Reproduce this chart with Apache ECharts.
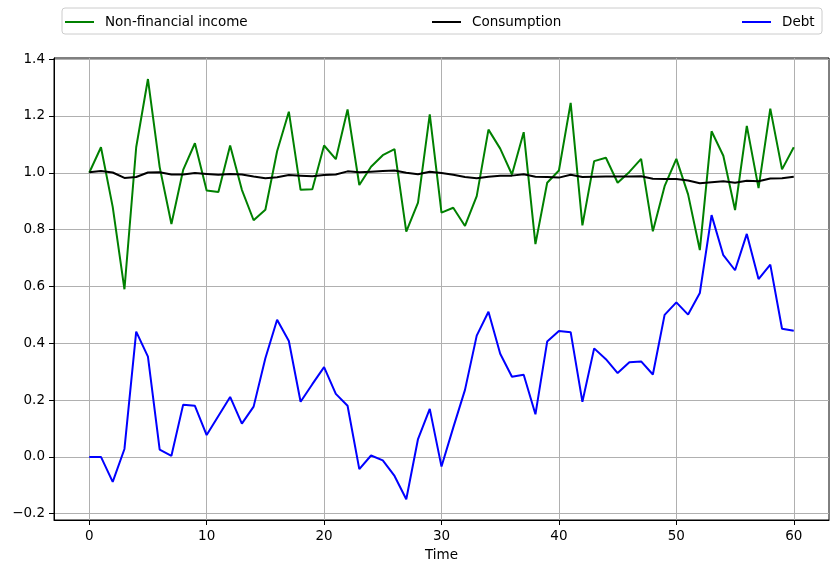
<!DOCTYPE html>
<html>
<head>
<meta charset="utf-8">
<script src="https://cdn.jsdelivr.net/npm/echarts@6/dist/echarts.min.js"></script>
<style>
  html, body { margin: 0; padding: 0; background: #fff; }
  #chart { width: 838px; height: 574px; }
</style>
</head>
<body>
<div id="chart"></div>
<script>
// values, one per time step 0..60
const income = [
  1.00, 1.09, 0.88, 0.59, 1.09, 1.33, 1.02, 0.82, 1.01, 1.104,
  0.938, 0.932, 1.096, 0.94, 0.833, 0.87, 1.076, 1.215, 0.94, 0.942,
  1.096, 1.048, 1.223, 0.957, 1.021, 1.062, 1.083, 0.793, 0.895, 1.206,
  0.86, 0.877, 0.813, 0.918, 1.152, 1.085, 0.994, 1.143, 0.749, 0.965,
  1.008, 1.246, 0.815, 1.041, 1.053, 0.965, 1.003, 1.049, 0.794, 0.953,
  1.049, 0.924, 0.728, 1.146, 1.06, 0.869, 1.165, 0.946, 1.226, 1.012,
  1.09
];
const consumption = [
  1.002, 1.006, 1.001, 0.982, 0.985, 1.001, 1.002, 0.994, 0.994, 0.999,
  0.996, 0.993, 0.996, 0.994, 0.987, 0.981, 0.984, 0.992, 0.990, 0.988,
  0.992, 0.994, 1.005, 1.002, 1.004, 1.006, 1.008, 1.000, 0.995, 1.004,
  0.999, 0.993, 0.985, 0.981, 0.986, 0.990, 0.990, 0.995, 0.986, 0.985,
  0.983, 0.993, 0.985, 0.986, 0.987, 0.987, 0.987, 0.988, 0.979, 0.978,
  0.978, 0.973, 0.963, 0.967, 0.970, 0.965, 0.972, 0.970, 0.980, 0.981,
  0.986
];
const debt = [
  0.0, 0.0, -0.088, 0.028, 0.441, 0.353, 0.026, 0.004, 0.184, 0.18,
  0.077, 0.144, 0.211, 0.117, 0.177, 0.347, 0.483, 0.408, 0.194, 0.256,
  0.316, 0.222, 0.18, -0.043, 0.005, -0.012, -0.067, -0.149, 0.063, 0.169,
  -0.034, 0.103, 0.236, 0.427, 0.511, 0.363, 0.282, 0.289, 0.15, 0.406,
  0.443, 0.439, 0.194, 0.382, 0.344, 0.295, 0.333, 0.336, 0.29, 0.5,
  0.544, 0.501, 0.577, 0.851, 0.71, 0.657, 0.785, 0.626, 0.677, 0.451,
  0.444
];
const xTicks = [0, 10, 20, 30, 40, 50, 60];
const yTicks = [-0.2, 0, 0.2, 0.4, 0.6, 0.8, 1.0, 1.2, 1.4];

const FONT = 'DejaVu Sans';
const pairs = arr => arr.map((v, i) => [i, v]);

function legendFor(name, left) {
  return {
    data: [name],
    left: left,
    top: 10,
    icon: 'rect',
    itemWidth: 29,
    itemHeight: 2,
    textStyle: { fontFamily: FONT, fontSize: 13.5, color: '#000', padding: [0, 0, 0, 6] },
  };
}

const chart = echarts.init(document.getElementById('chart'));
chart.setOption({
  animation: false,
  textStyle: { fontFamily: FONT },
  graphic: [{
    type: 'rect',
    shape: { x: 62, y: 8, width: 760, height: 26, r: 3 },
    style: { fill: 'rgba(255,255,255,0.8)', stroke: '#cccccc', lineWidth: 1 },
    z: -1,
  }],
  legend: [
    legendFor('Non-financial income', 60),
    legendFor('Consumption', 427),
    legendFor('Debt', 737),
  ],
  grid: {
    left: 54, right: 9, top: 58, bottom: 54,
    show: true, borderColor: '#000', borderWidth: 1,
  },
  xAxis: {
    type: 'value',
    min: -3, max: 63,
    name: 'Time',
    nameLocation: 'middle',
    nameGap: 28,
    nameTextStyle: { fontFamily: FONT, fontSize: 13.5, color: '#000' },
    axisLine: { show: true, onZero: false, lineStyle: { color: '#000' } },
    axisTick: { show: true, length: 5, lineStyle: { color: '#000' }, customValues: xTicks },
    axisLabel: { fontFamily: FONT, fontSize: 13.5, color: '#000', margin: 9, customValues: xTicks },
    splitLine: { show: true, lineStyle: { color: '#b0b0b0', width: 1 } },
  },
  yAxis: {
    type: 'value',
    min: -0.222, max: 1.404,
    axisLine: { show: true, onZero: false, lineStyle: { color: '#000' } },
    axisTick: { show: true, length: 5, lineStyle: { color: '#000' }, customValues: yTicks },
    axisLabel: {
      fontFamily: FONT, fontSize: 13.5, color: '#000', margin: 9,
      customValues: yTicks,
      formatter: v => v.toFixed(1).replace('-', '\u2212'),
    },
    splitLine: { show: true, lineStyle: { color: '#b0b0b0', width: 1 } },
  },
  series: [
    {
      name: 'Non-financial income', type: 'line', data: pairs(income),
      showSymbol: false, itemStyle: { color: '#008000' },
      lineStyle: { color: '#008000', width: 2 },
    },
    {
      name: 'Consumption', type: 'line', data: pairs(consumption),
      showSymbol: false, itemStyle: { color: '#000000' },
      lineStyle: { color: '#000000', width: 2 },
    },
    {
      name: 'Debt', type: 'line', data: pairs(debt),
      showSymbol: false, itemStyle: { color: '#0000ff' },
      lineStyle: { color: '#0000ff', width: 2 },
    },
  ],
});
</script>
</body>
</html>
